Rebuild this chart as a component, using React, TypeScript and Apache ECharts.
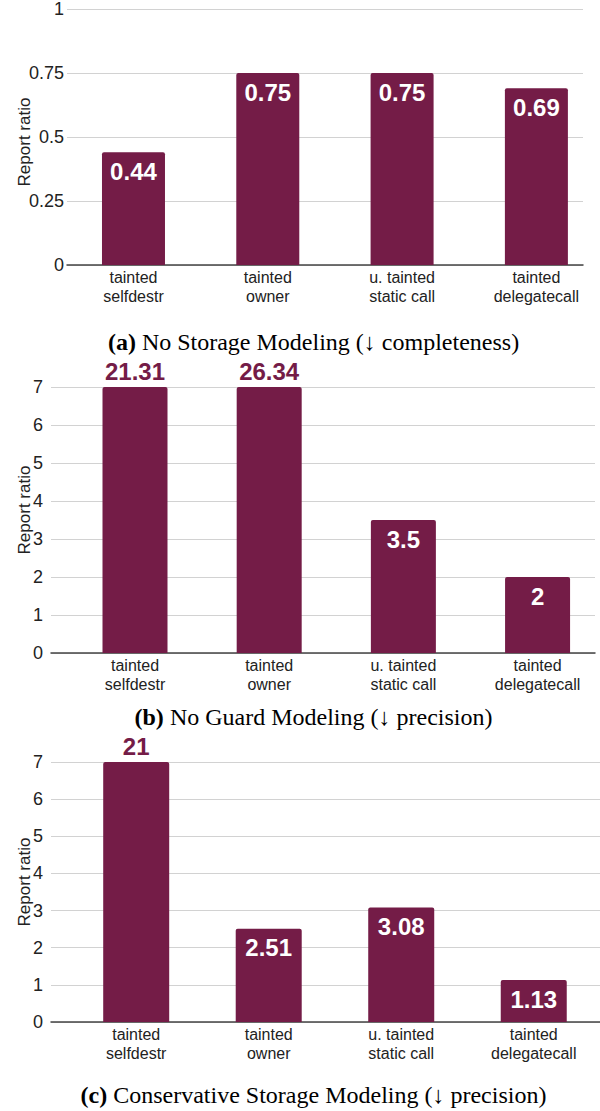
import React, { useEffect, useRef } from "react";
import * as echarts from "echarts";

const categories = [
  "tainted\nselfdestr",
  "tainted\nowner",
  "u. tainted\nstatic call",
  "tainted\ndelegatecall",
];
const valuesA = [0.44, 0.75, 0.75, 0.69];
const valuesB = [21.31, 26.34, 3.5, 2];
const valuesC = [21, 2.51, 3.08, 1.13];
const captionA = ["(a)", " No Storage Modeling (↓ completeness)"];
const captionB = ["(b)", " No Guard Modeling (↓ precision)"];
const captionC = ["(c)", " Conservative Storage Modeling (↓ precision)"];
const yNameText = "Report ratio";

const BAR = "#741c47";
const SANS = "Liberation Sans, Arial, sans-serif";
const SERIF = "Liberation Serif, Times New Roman, serif";

export default function App() {
  const ref = useRef<HTMLDivElement>(null);
  useEffect(() => {
    if (!ref.current) return;
    const chart = echarts.init(ref.current, undefined, { renderer: "svg" });

    const panels = [
      { vals: valuesA, yMax: 1, yInt: 0.25, left: 67, top: 6, width: 516, height: 259, xMin: -0.495, xMax: 3.347, barW: 63, labelMargin: 3, nameY: 142 },
      { vals: valuesB, yMax: 7, yInt: 1, left: 51, top: 387, width: 544, height: 266, xMin: -0.626, xMax: 3.428, barW: 65, labelMargin: 8, nameY: 510 },
      { vals: valuesC, yMax: 7, yInt: 1, left: 51, top: 762, width: 549, height: 260, xMin: -0.643, xMax: 3.5, barW: 66, labelMargin: 8, nameY: 882 },
    ];

    const grid = panels.map((p) => ({ left: p.left, top: p.top, width: p.width, height: p.height }));
    const xAxis = panels.map((p, i) => ({
      type: "value",
      gridIndex: i,
      min: p.xMin,
      max: p.xMax,
      splitLine: { show: false },
      axisTick: { show: false },
      axisLine: { show: true, onZero: false, lineStyle: { color: "#444", width: 1.5 } },
      axisLabel: {
        customValues: [0, 1, 2, 3],
        formatter: (v: number) => categories[Math.round(v)] ?? "",
        fontFamily: SANS,
        fontSize: 16,
        lineHeight: 19,
        color: "#222",
        margin: 3,
      },
    }));
    const yAxis = panels.map((p, i) => ({
      type: "value",
      gridIndex: i,
      min: 0,
      max: p.yMax,
      interval: p.yInt,
      axisLine: { show: false },
      axisTick: { show: false },
      splitLine: { show: true, lineStyle: { color: "#d2d2d2", width: 1 } },
      axisLabel: { fontFamily: SANS, fontSize: 18, color: "#222", margin: p.labelMargin },
    }));
    const series = panels.map((p, i) => ({
      type: "bar",
      xAxisIndex: i,
      yAxisIndex: i,
      barWidth: p.barW,
      itemStyle: { color: BAR, borderRadius: [2, 2, 0, 0] },
      label: {
        show: true,
        position: "insideTop",
        distance: 7,
        color: "#fff",
        fontFamily: SANS,
        fontWeight: "bold",
        fontSize: 24,
        formatter: (params: any) => String(params.data.raw),
      },
      data: p.vals.map((v, k) => ({
        value: [k, Math.min(v, p.yMax)],
        raw: v,
        label: v > p.yMax ? { position: "top", distance: 4, color: BAR } : undefined,
      })),
    }));

    const caps = [
      { c: captionA, y: 342 },
      { c: captionB, y: 717 },
      { c: captionC, y: 1095 },
    ];
    const graphic: any[] = [];
    caps.forEach((cp) => {
      graphic.push({
        type: "text",
        x: 313.5,
        y: cp.y,
        style: {
          text: "{b|" + cp.c[0] + "}{r|" + cp.c[1] + "}",
          align: "center",
          verticalAlign: "middle",
          fill: "#000",
          font: "24px " + SERIF,
          rich: {
            b: { fontFamily: SERIF, fontSize: 24, fontWeight: "bold", fill: "#000" },
            r: { fontFamily: SERIF, fontSize: 24, fill: "#000" },
          },
        },
      });
    });
    panels.forEach((p) => {
      graphic.push({
        type: "text",
        x: 24.5,
        y: p.nameY,
        rotation: Math.PI / 2,
        style: {
          text: yNameText,
          align: "center",
          verticalAlign: "middle",
          fill: "#222",
          font: "17px " + SANS,
        },
      });
    });

    chart.setOption({
      animation: false,
      backgroundColor: "#fff",
      grid,
      xAxis,
      yAxis,
      series,
      graphic,
    } as any);
    return () => chart.dispose();
  }, []);
  return (
    <div
      ref={ref}
      style={{ position: "absolute", left: 0, top: 0, width: 600, height: 1111 }}
    />
  );
}
